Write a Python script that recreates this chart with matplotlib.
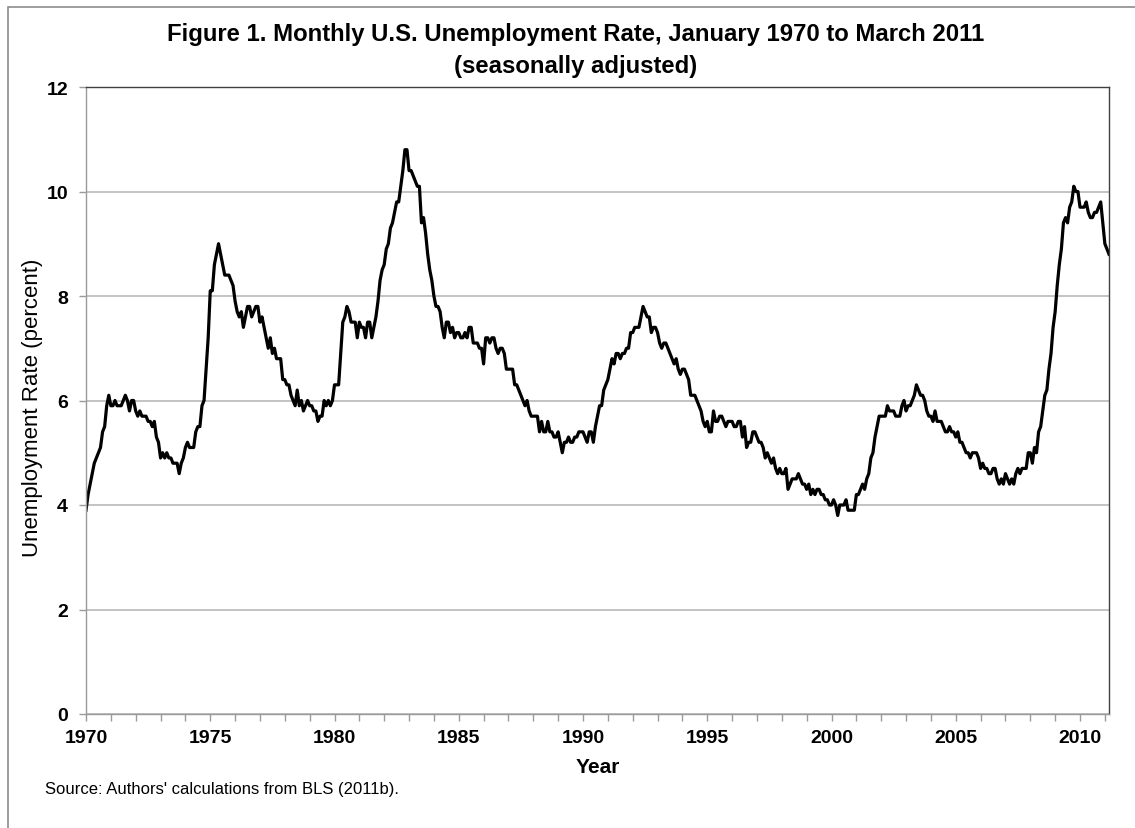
import numpy as np
import matplotlib.pyplot as plt
from matplotlib.patches import Rectangle

plt.rcParams['font.family'] = ['Liberation Sans', 'DejaVu Sans']

# monthly unemployment rate, Jan 1970 .. Mar 2011 (percent)
rate_1970s = [
    3.9, 4.2, 4.4, 4.6, 4.8, 4.9, 5.0, 5.1, 5.4, 5.5, 5.9, 6.1,
    5.9, 5.9, 6.0, 5.9, 5.9, 5.9, 6.0, 6.1, 6.0, 5.8, 6.0, 6.0,
    5.8, 5.7, 5.8, 5.7, 5.7, 5.7, 5.6, 5.6, 5.5, 5.6, 5.3, 5.2,
    4.9, 5.0, 4.9, 5.0, 4.9, 4.9, 4.8, 4.8, 4.8, 4.6, 4.8, 4.9,
    5.1, 5.2, 5.1, 5.1, 5.1, 5.4, 5.5, 5.5, 5.9, 6.0, 6.6, 7.2,
    8.1, 8.1, 8.6, 8.8, 9.0, 8.8, 8.6, 8.4, 8.4, 8.4, 8.3, 8.2,
    7.9, 7.7, 7.6, 7.7, 7.4, 7.6, 7.8, 7.8, 7.6, 7.7, 7.8, 7.8,
    7.5, 7.6, 7.4, 7.2, 7.0, 7.2, 6.9, 7.0, 6.8, 6.8, 6.8, 6.4,
    6.4, 6.3, 6.3, 6.1, 6.0, 5.9, 6.2, 5.9, 6.0, 5.8, 5.9, 6.0,
    5.9, 5.9, 5.8, 5.8, 5.6, 5.7, 5.7, 6.0, 5.9, 6.0, 5.9, 6.0,
]
rate_1980s = [
    6.3, 6.3, 6.3, 6.9, 7.5, 7.6, 7.8, 7.7, 7.5, 7.5, 7.5, 7.2,
    7.5, 7.4, 7.4, 7.2, 7.5, 7.5, 7.2, 7.4, 7.6, 7.9, 8.3, 8.5,
    8.6, 8.9, 9.0, 9.3, 9.4, 9.6, 9.8, 9.8, 10.1, 10.4, 10.8, 10.8,
    10.4, 10.4, 10.3, 10.2, 10.1, 10.1, 9.4, 9.5, 9.2, 8.8, 8.5, 8.3,
    8.0, 7.8, 7.8, 7.7, 7.4, 7.2, 7.5, 7.5, 7.3, 7.4, 7.2, 7.3,
    7.3, 7.2, 7.2, 7.3, 7.2, 7.4, 7.4, 7.1, 7.1, 7.1, 7.0, 7.0,
    6.7, 7.2, 7.2, 7.1, 7.2, 7.2, 7.0, 6.9, 7.0, 7.0, 6.9, 6.6,
    6.6, 6.6, 6.6, 6.3, 6.3, 6.2, 6.1, 6.0, 5.9, 6.0, 5.8, 5.7,
    5.7, 5.7, 5.7, 5.4, 5.6, 5.4, 5.4, 5.6, 5.4, 5.4, 5.3, 5.3,
    5.4, 5.2, 5.0, 5.2, 5.2, 5.3, 5.2, 5.2, 5.3, 5.3, 5.4, 5.4,
]
rate_1990s = [
    5.4, 5.3, 5.2, 5.4, 5.4, 5.2, 5.5, 5.7, 5.9, 5.9, 6.2, 6.3,
    6.4, 6.6, 6.8, 6.7, 6.9, 6.9, 6.8, 6.9, 6.9, 7.0, 7.0, 7.3,
    7.3, 7.4, 7.4, 7.4, 7.6, 7.8, 7.7, 7.6, 7.6, 7.3, 7.4, 7.4,
    7.3, 7.1, 7.0, 7.1, 7.1, 7.0, 6.9, 6.8, 6.7, 6.8, 6.6, 6.5,
    6.6, 6.6, 6.5, 6.4, 6.1, 6.1, 6.1, 6.0, 5.9, 5.8, 5.6, 5.5,
    5.6, 5.4, 5.4, 5.8, 5.6, 5.6, 5.7, 5.7, 5.6, 5.5, 5.6, 5.6,
    5.6, 5.5, 5.5, 5.6, 5.6, 5.3, 5.5, 5.1, 5.2, 5.2, 5.4, 5.4,
    5.3, 5.2, 5.2, 5.1, 4.9, 5.0, 4.9, 4.8, 4.9, 4.7, 4.6, 4.7,
    4.6, 4.6, 4.7, 4.3, 4.4, 4.5, 4.5, 4.5, 4.6, 4.5, 4.4, 4.4,
    4.3, 4.4, 4.2, 4.3, 4.2, 4.3, 4.3, 4.2, 4.2, 4.1, 4.1, 4.0,
]
rate_2000s = [
    4.0, 4.1, 4.0, 3.8, 4.0, 4.0, 4.0, 4.1, 3.9, 3.9, 3.9, 3.9,
    4.2, 4.2, 4.3, 4.4, 4.3, 4.5, 4.6, 4.9, 5.0, 5.3, 5.5, 5.7,
    5.7, 5.7, 5.7, 5.9, 5.8, 5.8, 5.8, 5.7, 5.7, 5.7, 5.9, 6.0,
    5.8, 5.9, 5.9, 6.0, 6.1, 6.3, 6.2, 6.1, 6.1, 6.0, 5.8, 5.7,
    5.7, 5.6, 5.8, 5.6, 5.6, 5.6, 5.5, 5.4, 5.4, 5.5, 5.4, 5.4,
    5.3, 5.4, 5.2, 5.2, 5.1, 5.0, 5.0, 4.9, 5.0, 5.0, 5.0, 4.9,
    4.7, 4.8, 4.7, 4.7, 4.6, 4.6, 4.7, 4.7, 4.5, 4.4, 4.5, 4.4,
    4.6, 4.5, 4.4, 4.5, 4.4, 4.6, 4.7, 4.6, 4.7, 4.7, 4.7, 5.0,
    5.0, 4.8, 5.1, 5.0, 5.4, 5.5, 5.8, 6.1, 6.2, 6.6, 6.9, 7.4,
    7.7, 8.2, 8.6, 8.9, 9.4, 9.5, 9.4, 9.7, 9.8, 10.1, 10.0, 10.0,
]
rate_2010s = [
    9.7, 9.7, 9.7, 9.8, 9.6, 9.5, 9.5, 9.6, 9.6, 9.7, 9.8, 9.4,
    9.0, 8.9, 8.8,
]

rate = np.array(rate_1970s + rate_1980s + rate_1990s + rate_2000s + rate_2010s)
start_year = 1970
years = start_year + np.arange(len(rate)) / 12.0

year_ticks = list(range(1970, 2012))
year_labels = [str(y) if y % 5 == 0 else '' for y in year_ticks]
y_ticks = [0, 2, 4, 6, 8, 10, 12]

fig = plt.figure(figsize=(11.35, 8.29), dpi=100)
fig.patches.append(Rectangle((8 / 1135, -0.05), 1.1, 1.05 - 8 / 829,
                             transform=fig.transFigure, fill=False,
                             edgecolor='#8c8c8c', linewidth=1.2))

ax = fig.add_axes([86 / 1135, 114 / 829, 1023 / 1135, 627 / 829])
ax.plot(years, rate, color='black', linewidth=2.3, solid_joinstyle='round')

ax.set_xlim(start_year, years[-1])
ax.set_ylim(0, 12)
ax.set_xticks(year_ticks)
ax.set_xticklabels(year_labels)
ax.set_yticks(y_ticks)
ax.yaxis.grid(True, color='#b3b3b3', linewidth=1.1)
ax.set_axisbelow(True)

for side in ['left', 'bottom']:
    ax.spines[side].set_color('#9a9a9a')
    ax.spines[side].set_linewidth(1.0)
for side in ['top', 'right']:
    ax.spines[side].set_color('#404040')
    ax.spines[side].set_linewidth(1.0)

ax.tick_params(axis='both', direction='out', length=5, width=1, color='#9a9a9a',
               labelsize=14)
ax.tick_params(axis='x', pad=6)
ax.tick_params(axis='y', pad=8)
for lbl in ax.get_xticklabels() + ax.get_yticklabels():
    lbl.set_fontweight('bold')

ax.set_xlabel('Year', fontsize=15, fontweight='bold')
ax.xaxis.set_label_coords(0.5, -(768 - 715) / 627, transform=ax.transAxes)
ax.xaxis.label.set_va('center')
ax.set_ylabel('Unemployment Rate (percent)', fontsize=16, fontweight='medium')
ax.yaxis.set_label_coords((33 - 86) / 1023, (715 - 408) / 627)
ax.yaxis.label.set_va('center')

fig.text(0.5075, 1 - 35 / 829, 'Figure 1. Monthly U.S. Unemployment Rate, January 1970 to March 2011',
         ha='center', va='center', fontsize=17.2, fontweight='bold')
fig.text(0.5075, 1 - 66 / 829, '(seasonally adjusted)',
         ha='center', va='center', fontsize=17.2, fontweight='bold')
fig.text(45 / 1135, 1 - 790 / 829, "Source: Authors' calculations from BLS (2011b).",
         ha='left', va='center', fontsize=12)

fig.savefig('out.png', dpi=100)
